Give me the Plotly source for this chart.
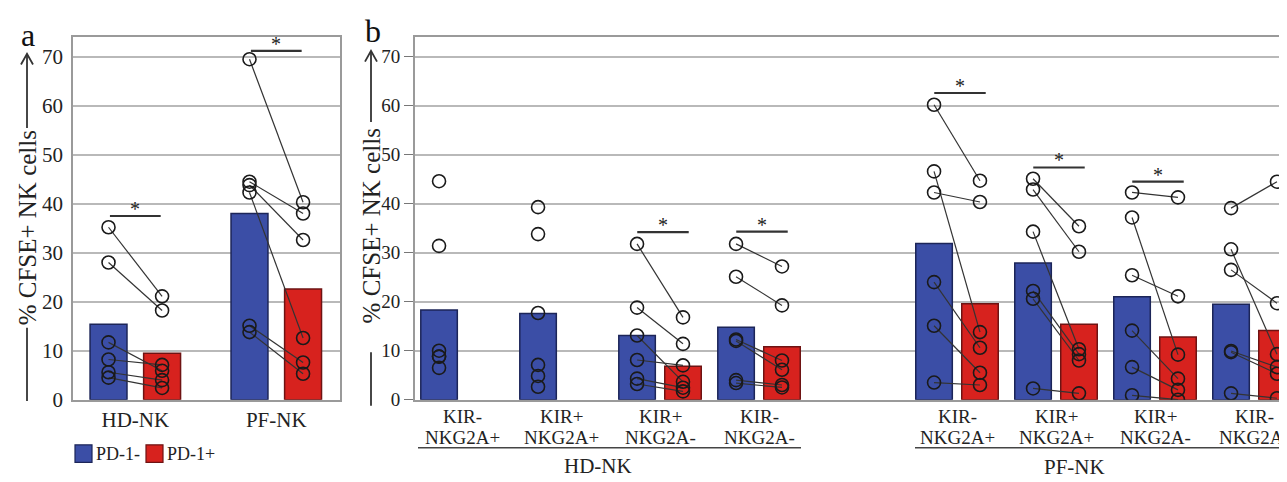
import plotly.graph_objects as go

W, H = 1287, 482

# ---------------- data ----------------
# Panel a
cats_a = ["HD-NK", "PF-NK"]
bar_a_neg = [15.4, 38.0]
bar_a_pos = [9.5, 22.6]
pts_a_neg = [[35.2, 28.0, 11.7, 8.2, 5.6, 4.5],
             [69.5, 44.5, 43.8, 42.3, 15.1, 13.8]]
pts_a_pos = [[21.1, 18.2, 5.9, 7.1, 4.0, 2.4],
             [40.3, 38.0, 32.6, 12.6, 7.6, 5.3]]
sig_a = [37.5, 71.2]

# Panel b
line1_b = ["KIR-", "KIR+", "KIR+", "KIR-", "KIR-", "KIR+", "KIR+", "KIR-"]
line2_b = ["NKG2A+", "NKG2A+", "NKG2A-", "NKG2A-", "NKG2A+", "NKG2A+", "NKG2A-", "NKG2A-"]
groups_b = ["HD-NK", "PF-NK"]
slot_b = [0, 1, 2, 3, 5, 6, 7, 8]
bar_b_neg = [18.3, 17.6, 13.1, 14.8, 31.9, 27.9, 21.0, 19.5]
bar_b_pos = [None, None, 6.85, 10.8, 19.6, 15.4, 12.8, 14.1]
pts_b_neg = [[44.6, 31.4, 10.0, 8.8, 8.8, 6.5],
             [39.3, 33.8, 17.7, 7.1, 4.85, 2.65],
             [31.8, 18.8, 13.1, 8.1, 4.3, 3.2],
             [31.8, 25.1, 12.3, 12.0, 4.0, 3.4],
             [60.2, 46.6, 42.3, 24.0, 15.1, 3.5],
             [45.1, 42.9, 34.3, 22.2, 20.6, 2.3],
             [42.3, 37.2, 25.4, 14.1, 6.65, 0.9],
             [39.1, 30.7, 26.5, 9.95, 9.7, 1.3]]
pts_b_pos = [None,
             None,
             [16.8, 11.4, 3.65, 7.0, 2.45, 1.7],
             [27.2, 19.25, 8.0, 6.1, 3.0, 2.5],
             [44.7, 13.8, 40.35, 10.6, 5.5, 3.0],
             [35.4, 30.2, 10.3, 9.3, 8.0, 1.3],
             [41.3, 9.2, 21.1, 4.3, 2.0, 0.0],
             [44.5, 9.3, 19.7, 6.65, 5.3, 0.3]]
sig_b = [None, None, 34.2, 34.3, 62.6, 47.4, 44.5, None]

legend_names = ["PD-1-", "PD-1+"]

# ---------------- style ----------------
BLUE = "#3b4ea6"
BLUE_LINE = "#1c2558"
RED = "#d7221e"
RED_LINE = "#6e1313"
GRID = "#b9b9b9"
AXIS = "#9a9a9a"
INK = "#222222"
FONT = "Liberation Serif"

def px(x):
    return x / W

def py(y):
    return (H - y) / H

fig = go.Figure()

def add_panel(xref, yref, xs, bneg, bpos, pneg, ppos, off, width):
    xn = [x - off for x in xs]
    xp = [x + off for x in xs]
    fig.add_trace(go.Bar(x=xn, y=bneg, width=width, marker=dict(color=BLUE, line=dict(color=BLUE_LINE, width=1.5)),
                         xaxis=xref, yaxis=yref, showlegend=False, name=legend_names[0]))
    fig.add_trace(go.Bar(x=xp, y=bpos, width=width, marker=dict(color=RED, line=dict(color=RED_LINE, width=1.5)),
                         xaxis=xref, yaxis=yref, showlegend=False, name=legend_names[1]))
    # connecting lines
    lx, ly = [], []
    for i in range(len(xs)):
        if ppos[i] is None:
            continue
        for a, b in zip(pneg[i], ppos[i]):
            lx += [xn[i], xp[i], None]
            ly += [a, b, None]
    fig.add_trace(go.Scatter(x=lx, y=ly, mode="lines", line=dict(color="#333333", width=1.2),
                             xaxis=xref, yaxis=yref, showlegend=False, hoverinfo="skip"))
    mx, my = [], []
    for i in range(len(xs)):
        for a in pneg[i]:
            mx.append(xn[i]); my.append(a)
        if ppos[i] is not None:
            for b in ppos[i]:
                mx.append(xp[i]); my.append(b)
    fig.add_trace(go.Scatter(x=mx, y=my, mode="markers",
                             marker=dict(symbol="circle-open", size=13, color="#1a1a1a", line=dict(width=1.6)),
                             xaxis=xref, yaxis=yref, showlegend=False))

add_panel("x", "y", [0, 1], bar_a_neg, bar_a_pos, pts_a_neg, pts_a_pos, 0.19, 0.262)
add_panel("x2", "y2", slot_b, bar_b_neg, bar_b_pos, pts_b_neg, pts_b_pos, 0.232, 0.369)

shapes = []
annots = []

def sig(xref, yref, x0, x1, y):
    shapes.append(dict(type="line", xref=xref, yref=yref, x0=x0, x1=x1, y0=y, y1=y,
                       line=dict(color="#333333", width=2.2)))
    annots.append(dict(xref=xref, yref=yref, x=(x0 + x1) / 2, y=y, text="*", showarrow=False,
                       yanchor="bottom", yshift=-6, font=dict(family=FONT, size=20, color=INK)))

for i, s in enumerate(sig_a):
    sig("x", "y", i - 0.18, i + 0.18, s)
for i, s in zip(slot_b, sig_b):
    if s is not None:
        sig("x2", "y2", i - 0.23, i + 0.29, s)

# category labels panel b
for i, t1, t2 in zip(slot_b, line1_b, line2_b):
    annots.append(dict(xref="x2", yref="paper", x=i, y=py(419), text=t1, showarrow=False,
                       yanchor="middle", font=dict(family=FONT, size=19, color=INK)))
    annots.append(dict(xref="x2", yref="paper", x=i, y=py(440), text=t2, showarrow=False,
                       yanchor="middle", font=dict(family=FONT, size=19, color=INK)))
# group labels + underlines
shapes.append(dict(type="line", xref="paper", yref="paper", x0=px(410), x1=px(793), y0=py(451), y1=py(451),
                   line=dict(color="#444444", width=1.5)))
shapes.append(dict(type="line", xref="paper", yref="paper", x0=px(907), x1=1.0, y0=py(451), y1=py(451),
                   line=dict(color="#444444", width=1.5)))
annots.append(dict(xref="paper", yref="paper", x=px(590), y=py(470), text=groups_b[0], showarrow=False,
                   yanchor="middle", font=dict(family=FONT, size=21, color=INK)))
annots.append(dict(xref="paper", yref="paper", x=px(1099), y=py(471), text=groups_b[1], showarrow=False,
                   yanchor="middle", font=dict(family=FONT, size=21, color=INK)))

# y-axis titles with arrows
def ytitle(xc, yc, arrow_top, arrow_bot, low_top, low_bot, size):
    annots.append(dict(xref="paper", yref="paper", x=px(xc), y=py(yc), text="% CFSE+ NK cells",
                       textangle=-90, showarrow=False, xanchor="center", yanchor="middle",
                       font=dict(family=FONT, size=size, color=INK)))
    shapes.append(dict(type="line", xref="paper", yref="paper", x0=px(xc), x1=px(xc),
                       y0=py(arrow_bot), y1=py(arrow_top), line=dict(color="#333333", width=1.8)))
    shapes.append(dict(type="path", xref="paper", yref="paper",
                       path=f"M {px(xc-6)} {py(arrow_top+11)} L {px(xc)} {py(arrow_top)} L {px(xc+6)} {py(arrow_top+11)}",
                       line=dict(color="#333333", width=1.8)))
    shapes.append(dict(type="line", xref="paper", yref="paper", x0=px(xc), x1=px(xc),
                       y0=py(low_bot), y1=py(low_top), line=dict(color="#333333", width=1.8)))

ytitle(19, 226, 47, 123, 328, 403, 25)
ytitle(363, 224, 44, 117, 353, 408, 25)

# panel letters
annots.append(dict(xref="paper", yref="paper", x=px(20), y=py(28), text="a", showarrow=False,
                   font=dict(family=FONT, size=32, color="#111111"), xanchor="center", yanchor="middle"))
annots.append(dict(xref="paper", yref="paper", x=px(365), y=py(24), text="b", showarrow=False,
                   font=dict(family=FONT, size=32, color="#111111"), xanchor="center", yanchor="middle"))

# legend (manual)
shapes.append(dict(type="rect", xref="paper", yref="paper", x0=px(67), x1=px(84), y0=py(466), y1=py(448),
                   fillcolor=BLUE, line=dict(color=BLUE_LINE, width=1.2)))
annots.append(dict(xref="paper", yref="paper", x=px(86), y=py(457), text=legend_names[0], showarrow=False,
                   xanchor="left", yanchor="middle", font=dict(family=FONT, size=18, color=INK)))
shapes.append(dict(type="rect", xref="paper", yref="paper", x0=px(138), x1=px(155), y0=py(466), y1=py(448),
                   fillcolor=RED, line=dict(color=RED_LINE, width=1.2)))
annots.append(dict(xref="paper", yref="paper", x=px(157), y=py(457), text=legend_names[1], showarrow=False,
                   xanchor="left", yanchor="middle", font=dict(family=FONT, size=18, color=INK)))

ydom = [py(401.7), py(29.9)]
yax = dict(range=[0, 74], domain=ydom, showgrid=True, gridcolor=GRID, gridwidth=1.5,
           tickvals=[0, 10, 20, 30, 40, 50, 60, 70], zeroline=False,
           showline=True, linecolor=AXIS, linewidth=1.5)

fig.update_layout(
    width=W, height=H, margin=dict(l=0, r=0, t=0, b=0),
    paper_bgcolor="white", plot_bgcolor="white",
    barmode="overlay", showlegend=False,
    font=dict(family=FONT, color=INK),
    xaxis=dict(domain=[px(65), px(332)], range=[-0.442, 1.452], tickvals=[0, 1], ticktext=cats_a,
               showgrid=False, zeroline=False, showline=True, linecolor=AXIS, linewidth=1.5, mirror=True,
               ticks="", tickfont=dict(size=21, family=FONT, color=INK)),
    yaxis=dict(**yax, anchor="x", mirror=True, ticks="", ticklabelstandoff=4,
               tickfont=dict(size=21, family=FONT, color=INK)),
    xaxis2=dict(domain=[px(406.7), 1.0], range=[-0.478, 8.414], showticklabels=False,
                showgrid=False, zeroline=False, showline=True, linecolor=AXIS, linewidth=1.5, mirror=True,
                ticks="", anchor="y2"),
    yaxis2=dict(**yax, anchor="x2", ticks="outside", ticklen=9, tickcolor="#777777",
                tickfont=dict(size=19, family=FONT, color=INK)),
    shapes=shapes, annotations=annots,
)

fig.write_html("out.html")
